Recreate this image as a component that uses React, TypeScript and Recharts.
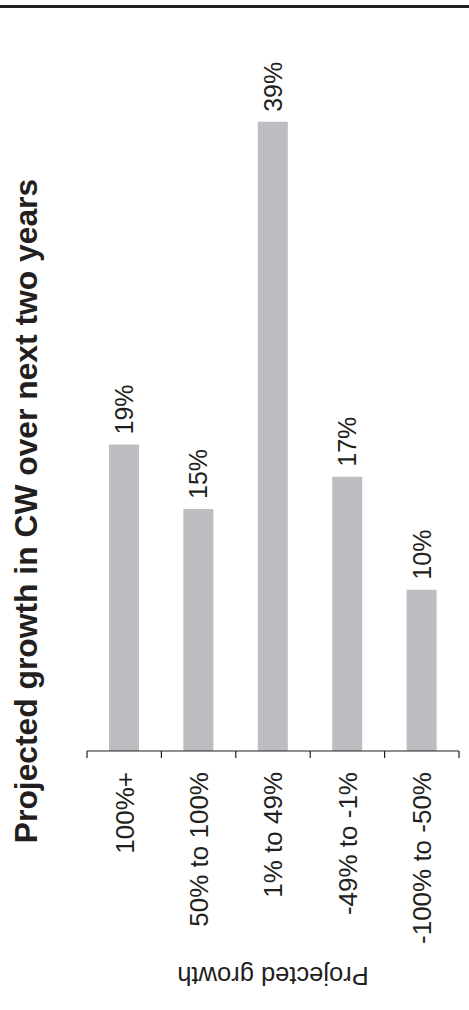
import { Bar, BarChart, LabelList, Label, XAxis, YAxis } from "recharts";

// Survey split of projected CW growth, one bar per bucket (share of respondents, %).
const CATEGORIES = ["100%+", "50% to 100%", "1% to 49%", "-49% to -1%", "-100% to -50%"];
const SHARES = [19, 15, 39, 17, 10];
const Y_DOMAIN = [0, 45];

const TITLE = "Projected growth in CW over next two years";
const X_TITLE = "Projected growth";

const WIDTH = 469;
const HEIGHT = 1010;
const MARGIN = { top: 25, right: 10, bottom: 0, left: 0 };
const X_AXIS_H = 259;
const Y_AXIS_W = 87;
const PLOT_W = WIDTH - MARGIN.left - MARGIN.right - Y_AXIS_W;
const PLOT_BOTTOM = HEIGHT - MARGIN.bottom - X_AXIS_H;
const BAND = PLOT_W / CATEGORIES.length;

const INK = "#231f20";
const BAR = "#bcbdc0";
const FONT = '"Liberation Sans", Arial, Helvetica, sans-serif';

const rows = CATEGORIES.map((name, i) => ({ name, share: SHARES[i] }));

// Category names run bottom-to-top; tick marks sit on the band edges, not the centres.
function CategoryTick(props: any) {
  const { x, payload, index } = props;
  const left = x - BAND / 2;
  const right = x + BAND / 2;
  const tx = x + 9.3;
  const ty = PLOT_BOTTOM + 21;
  return (
    <g>
      <line x1={left} x2={left} y1={PLOT_BOTTOM} y2={PLOT_BOTTOM + 7} stroke={INK} strokeWidth={1.2} />
      {index === CATEGORIES.length - 1 ? (
        <line x1={right} x2={right} y1={PLOT_BOTTOM} y2={PLOT_BOTTOM + 7} stroke={INK} strokeWidth={1.2} />
      ) : null}
      <text
        x={tx}
        y={ty}
        transform={`rotate(-90, ${tx}, ${ty})`}
        textAnchor="end"
        fill={INK}
        fontSize={26}
        fontFamily={FONT}
      >
        {payload.value}
      </text>
    </g>
  );
}

function ShareLabel(props: any) {
  const { x, y, width, value } = props;
  const cx = x + width / 2 + 9;
  const cy = y - 10;
  return (
    <text
      x={cx}
      y={cy}
      transform={`rotate(-90, ${cx}, ${cy})`}
      textAnchor="start"
      fill={INK}
      fontSize={25}
      fontFamily={FONT}
    >
      {`${value}%`}
    </text>
  );
}

function ChartTitle(props: any) {
  const { viewBox } = props;
  const x = viewBox.x + 37;
  const y = viewBox.y + viewBox.height / 2 + 123;
  return (
    <text
      x={x}
      y={y}
      transform={`rotate(-90, ${x}, ${y})`}
      textAnchor="middle"
      fill={INK}
      fontSize={31.8}
      fontWeight="bold"
      fontFamily={FONT}
    >
      {TITLE}
    </text>
  );
}

// The axis title is printed upside down under the category names.
function AxisTitle(props: any) {
  const { viewBox } = props;
  const x = viewBox.x + viewBox.width / 2;
  const y = 967;
  return (
    <text
      x={x}
      y={y}
      transform={`rotate(180, ${x}, ${y})`}
      textAnchor="middle"
      fill={INK}
      fontSize={25.5}
      fontFamily={FONT}
    >
      {X_TITLE}
    </text>
  );
}

export default function App() {
  return (
    <div style={{ position: "absolute", left: 0, top: 0, width: WIDTH, height: HEIGHT, background: "#fff" }}>
      <div style={{ position: "absolute", left: 0, top: 5, width: WIDTH, height: 2.6, background: INK }} />
      <BarChart width={WIDTH} height={HEIGHT} data={rows} margin={MARGIN}>
        <YAxis
          domain={Y_DOMAIN}
          width={Y_AXIS_W}
          tick={false}
          tickLine={false}
          axisLine={false}
          allowDataOverflow
        >
          <Label content={<ChartTitle />} />
        </YAxis>
        <XAxis
          dataKey="name"
          interval={0}
          tickLine={false}
          axisLine={{ stroke: INK, strokeWidth: 1.2 }}
          tick={<CategoryTick />}
          height={X_AXIS_H}
        >
          <Label content={<AxisTitle />} />
        </XAxis>
        <Bar dataKey="share" fill={BAR} barSize={30} isAnimationActive={false}>
          <LabelList dataKey="share" content={<ShareLabel />} />
        </Bar>
      </BarChart>
    </div>
  );
}
